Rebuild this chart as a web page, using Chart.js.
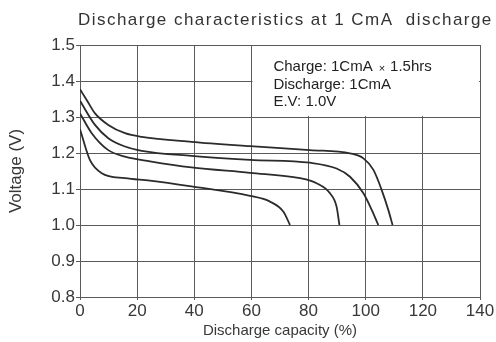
<!DOCTYPE html>
<html>
<head>
<meta charset="utf-8">
<script src="https://cdn.jsdelivr.net/npm/chart.js@4.4.1/dist/chart.umd.min.js"></script>
<style>
  html, body { margin: 0; padding: 0; background: #ffffff; }
  #wrap { width: 496px; height: 342px; position: relative; }
</style>
</head>
<body>
<div id="wrap"><canvas id="c" width="496" height="342"></canvas></div>
<script>
// ---- data ----
const chartTitle = "Discharge characteristics at 1 CmA  discharge";
const xAxisTitle = "Discharge capacity (%)";
const yAxisTitle = "Voltage (V)";
const noteLines = ["Charge: 1CmA", "Discharge: 1CmA", "E.V: 1.0V"];
const noteTimes = "\u00d7";
const noteHours = "1.5hrs";

const xTicks = [0, 20, 40, 60, 80, 100, 120, 140];
const yTicks = [0.8, 0.9, 1.0, 1.1, 1.2, 1.3, 1.4, 1.5];

const capA = [0, 2.5, 5.25, 9.9, 15.75, 21.6, 39, 59.5, 80.5, 94.5, 99.2, 102.7, 105.6, 107.9, 109.4];
const voltA = [1.377, 1.345, 1.31, 1.278, 1.255, 1.245, 1.231, 1.219, 1.208, 1.199, 1.185, 1.153, 1.097, 1.042, 1.0];

const capB = [0, 5.25, 9.9, 15.75, 21.6, 39, 59.5, 80.5, 89.8, 94.5, 99.2, 102.1, 104.4];
const voltB = [1.345, 1.278, 1.241, 1.218, 1.206, 1.192, 1.181, 1.173, 1.157, 1.134, 1.088, 1.042, 1.0];

const capC = [0, 4.1, 9.9, 15.75, 24.5, 39, 59.5, 77, 82.8, 87.5, 89.8, 90.8];
const voltC = [1.31, 1.255, 1.208, 1.19, 1.177, 1.16, 1.145, 1.13, 1.116, 1.088, 1.051, 1.0];

const capD = [0, 3.5, 7.6, 15.75, 24.5, 39, 59.5, 66.5, 71.2, 73.5];
const voltD = [1.266, 1.18, 1.144, 1.13, 1.123, 1.107, 1.081, 1.065, 1.037, 1.0];

// ---- build ----
const FONT = "'Liberation Sans', Arial, Helvetica, sans-serif";
const INK = '#2b2b2b';
const GRID = '#5a5a5a';

function pts(xs, ys) { return xs.map((x, i) => ({ x: x, y: ys[i] })); }
function ds(xs, ys) {
  return {
    data: pts(xs, ys),
    borderColor: INK,
    borderWidth: 1.8,
    pointRadius: 0,
    fill: false,
    cubicInterpolationMode: 'monotone'
  };
}

const overlay = {
  id: 'overlay',
  beforeDatasetsDraw(chart) {
    const { ctx, scales: { x, y } } = chart;
    // white note box masking the grid (x 60..140, y 1.3..1.5)
    const l = x.getPixelForValue(60), r = x.getPixelForValue(140);
    const t = y.getPixelForValue(1.5), b = y.getPixelForValue(1.3);
    ctx.save();
    ctx.fillStyle = '#ffffff';
    ctx.fillRect(l + 1, t + 1, r - l - 2, b - t - 2);
    ctx.restore();
  },
  afterDraw(chart) {
    const { ctx, scales: { x, y } } = chart;
    ctx.save();
    // title
    ctx.fillStyle = '#333333';
    ctx.font = '17px ' + FONT;
    ctx.textBaseline = 'alphabetic';
    ctx.textAlign = 'left';
    const w0 = ctx.measureText(chartTitle).width;
    const ls = Math.max(0, (415 - w0) / chartTitle.length);
    ctx.letterSpacing = ls.toFixed(2) + 'px';
    ctx.fillText(chartTitle, 78, 25);
    ctx.letterSpacing = '0px';
    // note text
    const nx = x.getPixelForValue(60) + 22;
    ctx.font = '15px ' + FONT;
    ctx.fillStyle = '#222222';
    ctx.fillText(noteLines[0], nx, 71);
    let cx = nx + ctx.measureText(noteLines[0]).width + 6;
    ctx.font = '11px ' + FONT;
    ctx.fillText(noteTimes, cx, 72);
    cx += ctx.measureText(noteTimes).width + 5;
    ctx.font = '15px ' + FONT;
    ctx.fillText(noteHours, cx, 71);
    ctx.fillText(noteLines[1], nx, 88.5);
    ctx.fillText(noteLines[2], nx, 106);
    ctx.restore();
  }
};

new Chart(document.getElementById('c'), {
  type: 'line',
  data: { datasets: [ds(capA, voltA), ds(capB, voltB), ds(capC, voltC), ds(capD, voltD)] },
  options: {
    responsive: false,
    animation: false,
    layout: { padding: { top: 45, right: 16, left: 0, bottom: 0 } },
    plugins: { legend: { display: false }, title: { display: false }, tooltip: { enabled: false } },
    scales: {
      x: {
        type: 'linear',
        min: 0, max: 140,
        afterBuildTicks(s) { s.ticks = xTicks.map(v => ({ value: v })); },
        afterFit(s) { s.height = 45; },
        grid: { color: GRID, lineWidth: 1, tickLength: 3, drawTicks: true },
        border: { color: GRID, width: 1 },
        ticks: { color: '#383838', font: { family: FONT, size: 17 }, padding: 1, maxRotation: 0, autoSkip: false },
        title: { display: true, text: xAxisTitle, color: '#383838', font: { family: FONT, size: 15 }, padding: { top: 0, bottom: 2 } }
      },
      y: {
        type: 'linear',
        min: 0.8, max: 1.5,
        afterBuildTicks(s) { s.ticks = yTicks.map(v => ({ value: v })); },
        afterFit(s) { s.width = 80; },
        grid: { color: GRID, lineWidth: 1, tickLength: 4, drawTicks: true },
        border: { color: GRID, width: 1 },
        ticks: { color: '#383838', font: { family: FONT, size: 17 }, padding: 1, callback: v => v.toFixed(1), autoSkip: false },
        title: { display: true, text: yAxisTitle, color: '#383838', font: { family: FONT, size: 17 }, padding: { top: 6, bottom: 0 } }
      }
    }
  },
  plugins: [overlay]
});
</script>
</body>
</html>
